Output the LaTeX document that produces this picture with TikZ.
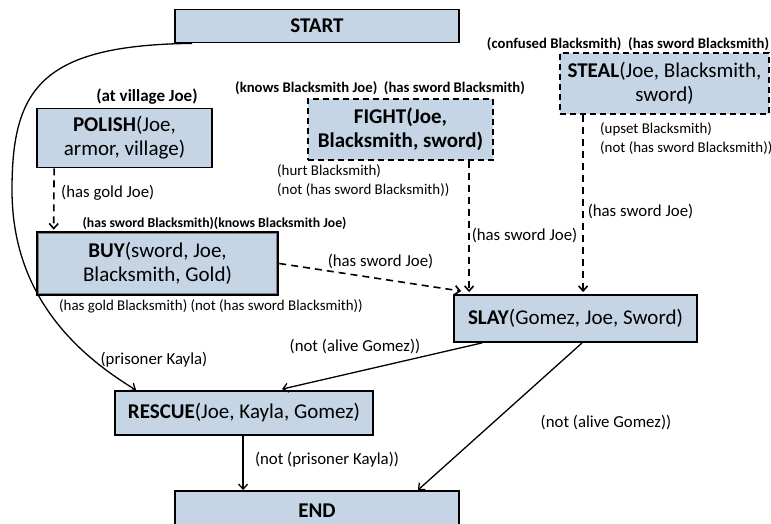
\documentclass[tikz,border=0pt]{standalone}
\usepackage{fontspec}
\setmainfont{Carlito}
\usetikzlibrary{arrows.meta}
\definecolor{boxblue}{RGB}{197,213,230}
\begin{document}
\begin{tikzpicture}[x=1pt,y=-1pt,
  box/.style={draw=black, line width=1.8pt, fill=boxblue, inner sep=0pt, align=center, font=\fontsize{21}{24}\selectfont},
  dbox/.style={box, dash pattern=on 6pt off 4pt},
  lbl/.style={inner sep=0pt, font=\fontsize{16.8}{19}\selectfont},
  elbl/.style={inner sep=0pt, font=\fontsize{14.9}{19}\selectfont},
  blbl/.style={inner sep=0pt, font=\bfseries\fontsize{14.7}{17}\selectfont},
  arr/.style={line width=1.3pt, -{Straight Barb[length=5pt,width=9pt]}},
  darr/.style={arr, line width=1.6pt, dash pattern=on 7pt off 5pt}]
\useasboundingbox (0,0) rectangle (771,524);
% boxes
\node[box, minimum width=284pt, minimum height=33pt] (start) at (317,26) {\textbf{START}};
\node[box, minimum width=175pt, minimum height=59pt] (polish) at (124.5,138) {\textbf{POLISH}(Joe,\\armor, village)};
\node[dbox, minimum width=185pt, minimum height=61pt] (fight) at (400.5,129.5) {\textbf{FIGHT(Joe,}\\\textbf{Blacksmith, sword)}};
\node[dbox, minimum width=209pt, minimum height=61pt] (steal) at (664.5,83.5) {\textbf{STEAL}(Joe, Blacksmith,\\sword)};
\node[box, line width=2.6pt, minimum width=241pt, minimum height=63pt] (buy) at (157.5,263.5) {\textbf{BUY}(sword, Joe,\\Blacksmith, Gold)};
\draw[gray, line width=1pt] ([shift={(3pt,-3pt)}]buy.north west) rectangle ([shift={(-3pt,3pt)}]buy.south east);
\node[box, minimum width=243pt, minimum height=47pt] (slay) at (575.5,318.5) {\textbf{SLAY}(Gomez, Joe, Sword)};
\node[box, minimum width=258pt, minimum height=44pt] (rescue) at (244,413) {\textbf{RESCUE}(Joe, Kayla, Gomez)};
\node[box, minimum width=284pt, minimum height=40pt] (end) at (317,511) {\textbf{END}};
% precondition / effect labels
\node[blbl, font=\bfseries\fontsize{17}{19}\selectfont] (l1) at (147,97) {(at village Joe)};
\node[blbl] (l2) at (380,88) {(knows Blacksmith Joe)\ \ (has sword Blacksmith)};
\node[blbl] (l3) at (628,44) {(confused Blacksmith)\ \ (has sword Blacksmith)};
\node[blbl, font=\bfseries\fontsize{13.7}{16}\selectfont] (l4) at (214.5,223) {(has sword Blacksmith)(knows Blacksmith Joe)};
\node[elbl] (l5) at (211,306) {(has gold Blacksmith) (not (has sword Blacksmith))};
\node[elbl, anchor=west, align=left] (l6) at (277,180.5) {(hurt Blacksmith)\\(not (has sword Blacksmith))};
\node[elbl, anchor=west, align=left] (l7) at (600,138.5) {(upset Blacksmith)\\(not (has sword Blacksmith))};
% edge labels
\node[lbl, anchor=west] (e1) at (61,193) {(has gold Joe)};
\node[lbl] (e2) at (380.5,262) {(has sword Joe)};
\node[lbl] (e3) at (524.5,236) {(has sword Joe)};
\node[lbl] (e4) at (640.5,212) {(has sword Joe)};
\node[lbl] (e5) at (154,360) {(prisoner Kayla)};
\node[lbl] (e6) at (355,347) {(not (alive Gomez))};
\node[lbl] (e7) at (606,423) {(not (alive Gomez))};
\node[lbl] (e8) at (327,460) {(not (prisoner Kayla))};
% connectors
\draw[arr] ([xshift=18pt]start.south west) .. controls (40,45) and (12,90) .. (12,190)
  .. controls (12,290) and (70,350) .. ([xshift=22pt]rescue.north west);
\draw[darr] ([xshift=18pt]polish.south west) -- ([xshift=18pt,yshift=1pt]buy.north west);
\draw[darr] (buy.east) -- ([xshift=8pt,yshift=3pt]slay.north west);
\draw[darr] ([xshift=162pt]fight.south west) -- ([xshift=16pt,yshift=2pt]slay.north west);
\draw[darr] ([xshift=24pt]steal.south west) -- ([xshift=130pt,yshift=2pt]slay.north west);
\draw[arr] ([xshift=29pt]slay.south west) -- ([xshift=168pt,yshift=1pt]rescue.north west);
\draw[arr] ([xshift=129pt]slay.south west) -- ([xshift=-42pt]end.north east);
\draw[arr] ([xshift=129pt]rescue.south west) -- ([xshift=69pt]end.north west);
\end{tikzpicture}
\end{document}
